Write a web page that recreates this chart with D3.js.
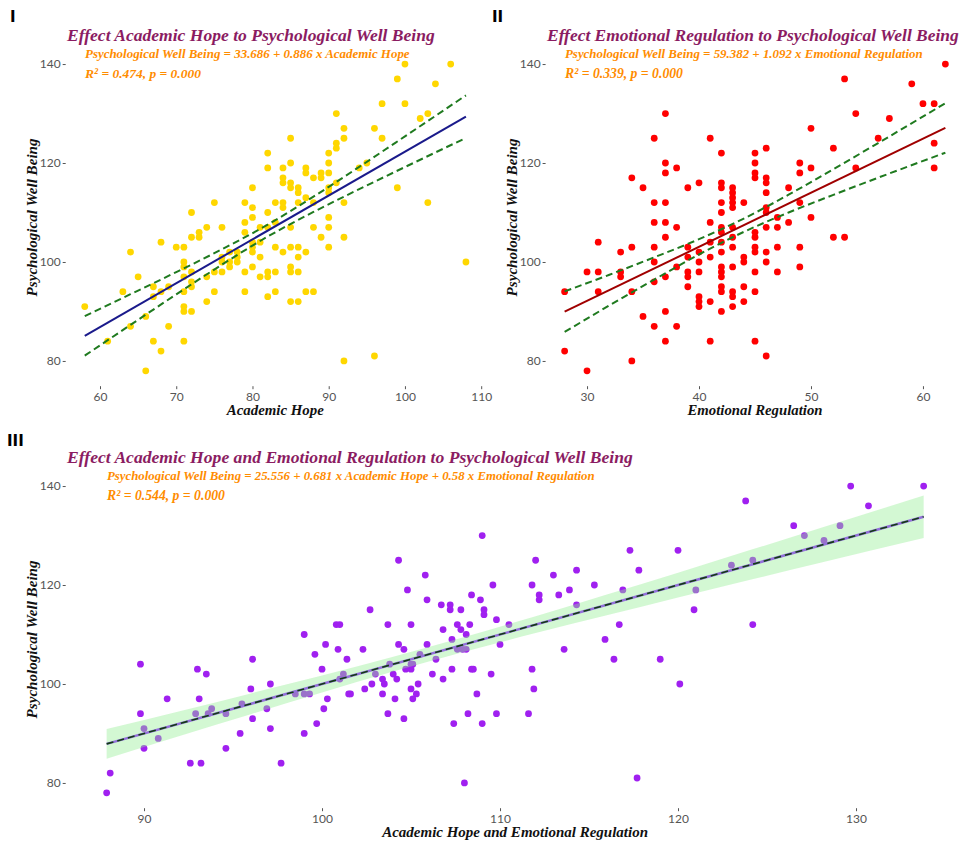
<!DOCTYPE html>
<html>
<head>
<meta charset="utf-8">
<script src="https://cdn.jsdelivr.net/npm/d3@7"></script>
<style>
  body { margin: 0; background: #fff; }
  .tick text { font-family: Lato, "Open Sans", sans-serif; font-size: 12px; fill: #555; }
  .tick line { stroke: #555; }
  .script { font-family: "Liberation Serif", "DejaVu Serif", serif; font-style: italic; font-weight: bold; }
</style>
</head>
<body>
<svg id="chart" width="966" height="845"></svg>
<script>
// ---- data ----
// Panel I: [Academic Hope, Psychological Well Being]
const hopePoints = [[100,140],[106,140],[99,137],[104,136],[97,132],[100,132],[91,130],[102,129],[103,130],[96,127],[92,127],[92,125],[97,125],[85,125],[91,124],[91,123],[82,122],[90,122],[90,120],[82,119],[84,119],[85,120],[87,119],[87,118],[89,118],[89,117],[88,117],[90,118],[94,119],[95,120],[84,117],[84,116],[85,116],[85,115],[86,115],[86,114],[87,113],[91,116],[90,115],[90,114],[99,115],[80,115],[83,112],[84,112],[84,111],[86,112],[88,112],[92,112],[103,112],[75,112],[79,112],[80,111],[72,110],[82,110],[79,108],[80,109],[83,108],[81,107],[82,107],[74,107],[76,107],[85,107],[88,107],[90,109],[90,107],[73,106],[73,105],[72,105],[79,106],[68,104],[70,103],[71,103],[64,102],[80,104],[80,103],[80,102],[81,104],[78,102],[78,101],[78,100],[77,102],[76,101],[76,100],[76,98],[77,100],[77,99],[81,101],[83,103],[84,102],[85,103],[86,103],[86,101],[87,102],[89,105],[90,103],[92,105],[71,100],[71,99],[71,97],[72,98],[72,96],[72,95],[69,95],[67,95],[67,93],[65,97],[63,94],[68,94],[71,94],[71,91],[71,90],[72,90],[74,97],[74,92],[75,98],[75,94],[79,98],[79,94],[80,99],[81,97],[82,98],[82,97],[83,98],[82,93],[83,94],[85,99],[85,98],[86,98],[85,92],[86,92],[87,94],[88,94],[58,91],[66,89],[64,87],[69,87],[61,84],[67,84],[71,84],[68,82],[66,78],[92,80],[96,81],[108,100]];

// Panel II: [Emotional Regulation, Psychological Well Being]
const emoPoints = [[62,140],[53,137],[59,136],[60,132],[61,132],[54,130],[57,129],[56,125],[61,124],[61,119],[37,130],[36,125],[41,125],[42,122],[45,122],[46,123],[50,127],[52,123],[54,119],[49,120],[49,118],[50,119],[37,120],[37,118],[38,119],[34,117],[35,115],[36,112],[37,112],[36,108],[37,108],[38,107],[39,115],[40,116],[41,108],[42,116],[42,115],[42,112],[42,110],[42,107],[43,115],[43,114],[43,113],[43,112],[43,111],[44,112],[45,120],[45,118],[45,117],[46,117],[46,116],[46,114],[46,111],[46,110],[47,109],[48,115],[49,112],[48,108],[50,109],[46,107],[47,107],[42,106],[43,107],[43,105],[45,106],[45,105],[52,105],[53,105],[31,104],[33,102],[34,103],[36,103],[37,105],[39,103],[39,101],[40,102],[40,100],[41,104],[41,101],[42,104],[42,102],[43,103],[43,99],[44,101],[44,100],[45,103],[45,102],[45,98],[46,102],[46,100],[47,103],[47,98],[49,103],[49,99],[30,98],[31,98],[33,98],[33,97],[36,100],[38,99],[39,98],[39,97],[39,95],[40,98],[42,99],[42,98],[42,97],[42,95],[42,94],[43,94],[43,93],[43,91],[44,95],[44,92],[45,94],[40,93],[40,92],[40,91],[41,92],[42,90],[37,97],[36,96],[28,94],[31,94],[34,94],[35,89],[36,87],[38,87],[37,90],[37,84],[41,84],[45,84],[28,82],[30,78],[34,80],[46,81]];

// Panel III: [fitted Academic Hope + Emotional Regulation, Psychological Well Being]
const bothPoints = [[87.9,78],[88.1,82],[89.8,104],[89.8,94],[90.0,91],[90.0,87],[90.8,89],[91.3,97],[92.6,84],[93.2,84],[92.9,94],[93.0,103],[93.1,97],[93.5,102],[93.6,94],[93.8,95],[94.6,94],[94.6,87],[95.4,90],[95.5,96],[96.0,99],[96.1,105],[96.1,93],[96.9,95],[97.1,100],[97.1,91],[97.7,84],[98.5,98],[99.0,98],[99.3,98],[99.0,110],[99.0,90],[99.6,106],[99.7,92],[100.0,103],[100.1,95],[100.2,108],[100.3,97],[100.8,112],[100.9,107],[101.0,101],[109.0,130],[104.3,125],[112.0,125],[117.3,127],[117.8,123],[105.8,122],[109.6,120],[111.8,120],[113.0,122],[114.3,123],[115.3,120],[113.9,119],[113.3,118],[112.2,118],[112.2,117],[116.9,119],[104.8,119],[105.9,117],[108.4,118],[108.9,117],[109.1,115],[109.1,114],[106.7,116],[107.2,116],[107.2,115],[107.8,115],[102.7,115],[114.3,116],[109.8,113],[110.5,112],[107.6,112],[108.3,112],[103.7,112],[105.0,112],[101.0,112],[106.8,111],[107.8,111],[108.1,110],[107.3,109],[110.0,108],[105.9,108],[104.3,108],[116.7,112],[115.9,109],[116.4,105],[113.6,107],[102.3,107],[104.6,107],[107.6,107],[107.9,107],[108.1,107],[105.5,106],[106.4,105],[101.4,105],[103.8,104],[105.0,104],[105.1,104],[104.7,103],[105.0,103],[107.3,103],[108.4,103],[108.5,103],[111.8,103],[103.0,102],[104.0,102],[106.2,102],[109.5,102],[101.2,102],[103.4,101],[104.2,101],[106.8,101],[102.8,100],[103.5,100],[105.4,100],[102.4,99],[105.0,99],[111.9,99],[101.5,98],[101.6,98],[103.4,98],[105.3,98],[108.7,98],[104.1,97],[105.1,97],[103.7,94],[104.6,93],[108.2,94],[109.8,94],[111.6,94],[107.4,92],[109.0,92],[108.0,80],[117.7,81],[129.7,140],[133.8,140],[123.8,137],[130.7,136],[126.5,132],[127.1,130],[129.1,132],[128.2,129],[120.0,127],[123.0,124],[124.2,125],[121.0,119],[120.9,115],[124.2,112],[119.0,105],[120.1,100]];

// regression coefficients (from the annotations) and fit ranges
const fitI = { a: 33.686, b: 0.886, range: [58, 108] };
const fitII = { a: 59.382, b: 1.092, range: [28, 62] };
const fitIII = { a: 0, b: 1, range: [87.9, 133.8] };

// confidence band half widths
const ciXI = [58, 64, 70, 76, 82, 88, 94, 100, 108];
const ciHalfI = [4.0, 3.1, 2.25, 1.55, 1.2, 1.55, 2.25, 3.1, 4.3];
const ciXII = [28, 32, 36, 40, 44, 48, 52, 56, 62];
const ciHalfII = [4.1, 3.1, 2.25, 1.55, 1.35, 1.8, 2.6, 3.5, 5.0];
const ciXIII = [87.9, 92, 96, 100, 104, 108, 112, 116, 120, 124, 128, 133.8];
const ciHalfIII = [3.0, 2.5, 2.1, 1.7, 1.5, 1.5, 1.7, 2.1, 2.5, 3.0, 3.5, 4.3];

const ticksYAll = [80, 100, 120, 140];
const ticksXI = [60, 70, 80, 90, 100, 110];
const ticksXII = [30, 40, 50, 60];
const ticksXIII = [90, 100, 110, 120, 130];

const titles = [
  "Effect Academic Hope to Psychological Well Being",
  "Effect Emotional Regulation to Psychological Well Being",
  "Effect Academic Hope and Emotional Regulation to Psychological Well Being"
];
const equations = [
  "Psychological Well Being = 33.686 + 0.886 x Academic Hope",
  "Psychological Well Being = 59.382 + 1.092 x Emotional Regulation",
  "Psychological Well Being = 25.556 + 0.681 x Academic Hope + 0.58 x Emotional Regulation"
];
const stats = ["R² = 0.474, p = 0.000", "R² = 0.339, p = 0.000", "R² = 0.544, p = 0.000"];
const xLabels = ["Academic Hope", "Emotional Regulation", "Academic Hope and Emotional Regulation"];
const yLabel = "Psychological Well Being";
const tags = ["I", "II", "III"];

const svg = d3.select('#chart');
const titleColor = "#8b1c62";
const subColor = "#ff8c00";

// set font size so the text's own width is the wanted width
function fitText(sel, size, len) {
  sel.attr('font-size', size);
  const w = sel.node().getComputedTextLength();
  sel.attr('font-size', (size * len / w).toFixed(2));
  return sel;
}

function panel(cfg) {
  const x = d3.scaleLinear().domain(cfg.xDomain).range([cfg.l, cfg.r]);
  const y = d3.scaleLinear().domain([74.9, 143.1]).range([cfg.b, cfg.t]);
  const g = svg.append('g');

  // axes
  const ax = g.append('g').attr('transform', `translate(0,${cfg.b})`)
    .call(d3.axisBottom(x).tickValues(cfg.ticksX).tickSize(3).tickPadding(3));
  ax.select('.domain').remove();
  const ay = g.append('g').attr('transform', `translate(${cfg.l},0)`)
    .call(d3.axisLeft(y).tickValues(ticksYAll).tickSize(3).tickPadding(2));
  ay.select('.domain').remove();

  const fitY = v => cfg.fit.a + cfg.fit.b * v;
  const ln = d3.line().x(d => x(d)).y(d => y(fitY(d)));

  g.append('g').selectAll('circle').data(cfg.points).join('circle')
    .attr('cx', d => x(d[0])).attr('cy', d => y(d[1])).attr('r', 3.4)
    .attr('fill', cfg.color);

  if (cfg.ribbon) {
    // ribbon drawn over the points
    const area = d3.area().curve(d3.curveMonotoneX)
      .x(d => x(d))
      .y0((d, i) => y(fitY(d) - cfg.ciHalf[i]))
      .y1((d, i) => y(fitY(d) + cfg.ciHalf[i]));
    g.append('path').datum(cfg.ciX).attr('d', area)
      .attr('fill', '#90ee90').attr('fill-opacity', 0.4);
    g.append('path').datum(cfg.fit.range).attr('d', ln)
      .attr('stroke', '#9370db').attr('stroke-width', 2.5).attr('fill', 'none');
    g.append('path').datum(cfg.fit.range).attr('d', ln)
      .attr('stroke', '#123d12').attr('stroke-width', 1.6).attr('fill', 'none')
      .attr('stroke-dasharray', '7,4');
  } else {
    g.append('path').datum(cfg.fit.range).attr('d', ln)
      .attr('stroke', cfg.lineColor).attr('stroke-width', 2).attr('fill', 'none');
    [1, -1].forEach(s => {
      const band = d3.line().curve(d3.curveMonotoneX)
        .x(d => x(d))
        .y((d, i) => y(fitY(d) + s * cfg.ciHalf[i]));
      g.append('path').datum(cfg.ciX).attr('d', band)
        .attr('stroke', '#1f7a1f').attr('stroke-width', 2).attr('fill', 'none')
        .attr('stroke-dasharray', '7,4');
    });
  }

  // texts
  const txt = (t, px, py, size, color, len) => fitText(g.append('text')
    .attr('class', 'script').attr('x', px).attr('y', py)
    .attr('fill', color).text(t), size, len);

  g.append('text').attr('x', cfg.tagX).attr('y', cfg.tagY)
    .attr('font-family', 'DejaVu Sans').attr('font-weight', 'bold')
    .attr('font-size', 15).text(cfg.tag);
  txt(cfg.title, cfg.titleX, cfg.titleY, 19, titleColor, cfg.titleLen);
  txt(cfg.eq, cfg.subX, cfg.titleY + 17, 12, subColor, cfg.eqLen);
  txt(cfg.stat, cfg.subX, cfg.titleY + 37, 12, subColor, cfg.statLen);
  txt(cfg.xLabel, (cfg.l + cfg.r) / 2 - cfg.xLabLen / 2, cfg.b + 29, 14, '#111', cfg.xLabLen);
  fitText(g.append('text').attr('class', 'script')
    .attr('transform', `translate(${cfg.l - 29},${(cfg.t + cfg.b) / 2}) rotate(-90)`)
    .attr('text-anchor', 'middle').attr('fill', '#111').text(yLabel), 14, 158);
}

panel({
  points: hopePoints, color: '#ffd700', lineColor: '#1a1a8b', fit: fitI,
  ciX: ciXI, ciHalf: ciHalfI, xDomain: [55.5, 110.5], ticksX: ticksXI,
  l: 65.7, r: 485, t: 48.7, b: 386.2,
  tag: tags[0], tagX: 10, tagY: 22,
  title: titles[0], titleX: 67, titleY: 41, titleLen: 368,
  eq: equations[0], subX: 85, eqLen: 325, stat: stats[0], statLen: 116,
  xLabel: xLabels[0], xLabLen: 97
});

panel({
  points: emoPoints, color: '#ff0000', lineColor: '#a00000', fit: fitII,
  ciX: ciXII, ciHalf: ciHalfII, xDomain: [26.3, 63.7], ticksX: ticksXII,
  l: 545.6, r: 964.4, t: 48.7, b: 386.2,
  tag: tags[1], tagX: 492, tagY: 22,
  title: titles[1], titleX: 547, titleY: 41, titleLen: 412,
  eq: equations[1], subX: 565, eqLen: 358, stat: stats[1], statLen: 118,
  xLabel: xLabels[1], xLabLen: 135
});

panel({
  points: bothPoints, color: '#a020f0', fit: fitIII, ribbon: true,
  ciX: ciXIII, ciHalf: ciHalfIII, xDomain: [85.6, 136.1], ticksX: ticksXIII,
  l: 65.7, r: 964.6, t: 470.7, b: 808.2,
  tag: tags[2], tagX: 7, tagY: 446,
  title: titles[2], titleX: 67, titleY: 463, titleLen: 566,
  eq: equations[2], subX: 107, eqLen: 488, stat: stats[2], statLen: 118,
  xLabel: xLabels[2], xLabLen: 266
});
</script>
</body>
</html>
